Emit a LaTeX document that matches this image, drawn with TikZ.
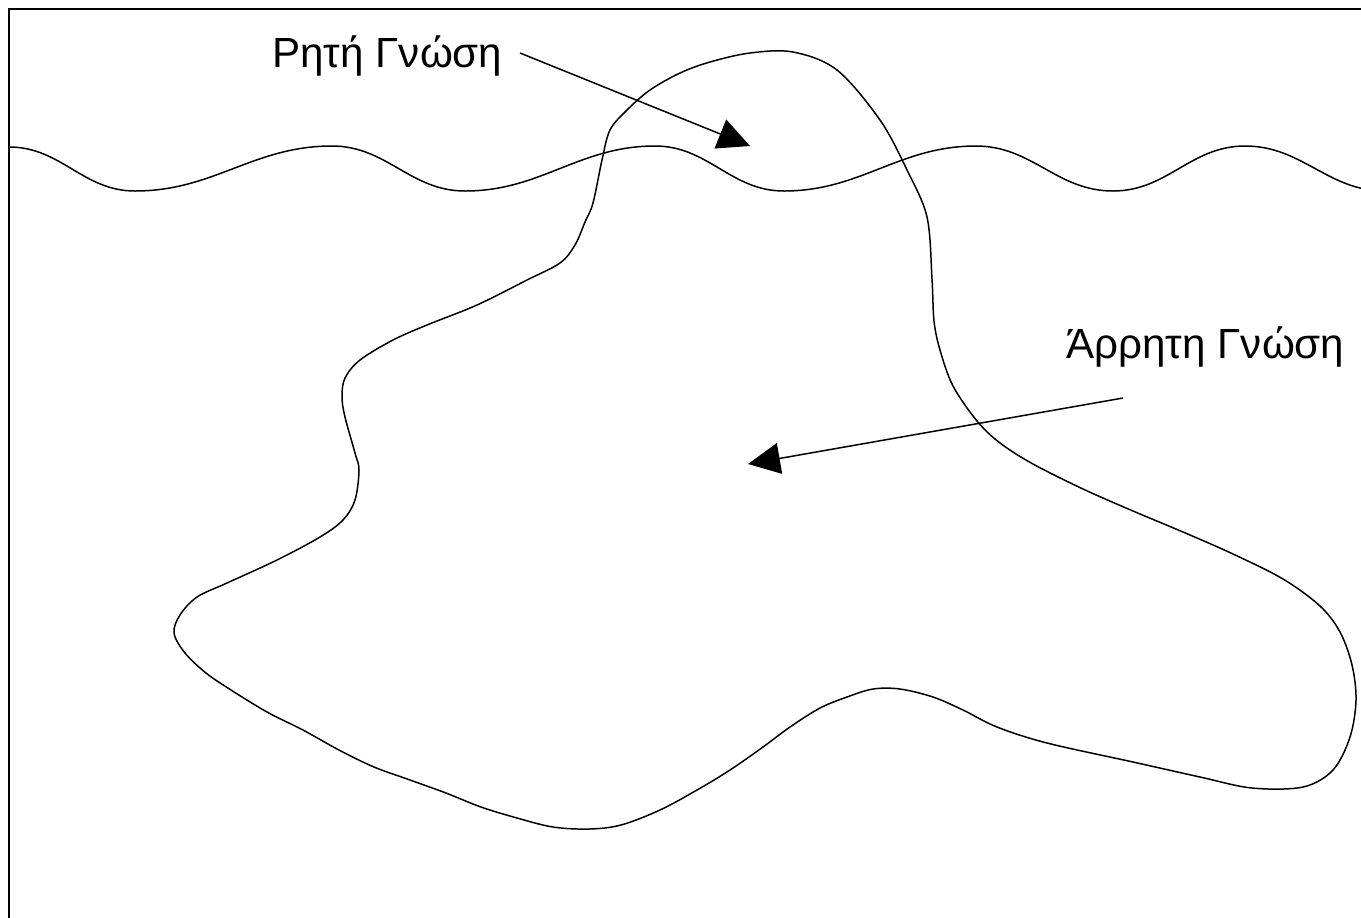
\documentclass[tikz,border=0pt]{standalone}
\usepackage{fontspec}
\setmainfont{Liberation Sans}
\usetikzlibrary{arrows.meta}
\tikzset{
    curve/.style={line width=0.85pt},
    swing/.style={out=0,in=180},
    pointer/.style={line width=0.85pt,-{Triangle[length=0.64cm,width=0.62cm]}},
    tag/.style={inner sep=0pt,anchor=base west,font=\fontsize{24}{28}\selectfont}
}

\begin{document}
\begin{tikzpicture}[x=0.02cm,y=-0.02cm]
    \useasboundingbox (0,0) rectangle (1361,917);
    \clip (0,0) rectangle (1361,917);

    % frame
    \draw[line width=1.1pt] (9,9) rectangle (1400,960);

    % surface line
    \draw[curve] (9,147) to[swing] (135,191) to[swing] (332,146) to[swing] (465,191)
        to[swing] (655,146) to[swing] (784,191) to[swing] (976,146) to[swing] (1113,191)
        to[swing] (1245,146) to[swing] (1385,191);

    % the iceberg
    \draw[curve] plot[smooth cycle,tension=0.55] coordinates {
        (750,53) (793,52) (837,70) (880,120) (907,170) (927,217) (932,279) (934,321)
        (940,350) (953,386) (977,421) (1000,443) (1033,464) (1083,489) (1133,511)
        (1183,532) (1233,554) (1283,579) (1320,606) (1340,632) (1352,665) (1356,700)
        (1350,737) (1333,770) (1303,787) (1252,788) (1200,777) (1133,762) (1047,743)
        (997,727) (963,710) (933,697) (900,689) (873,689) (847,697) (820,708) (790,727)
        (763,747) (730,770) (697,790) (660,810) (621,825) (589,829) (553,827) (517,818)
        (481,807) (446,793) (410,780) (374,767) (339,750) (303,730) (267,712) (231,690)
        (206,673) (185,653) (174,633) (180,615) (197,597) (227,583) (277,560) (320,537)
        (343,520) (355,500) (359,470) (355,453) (345,417) (342,397) (345,378) (360,360)
        (393,340) (427,325) (477,305) (527,280) (560,263) (575,245) (585,222) (593,203)
        (602,160) (610,130) (627,110) (650,90) (680,73) (710,62)};

    % labels
    \node[tag] (explicit) at (272,67) {Ρητή Γνώση};
    \node[tag] (tacit) at (1066,358) {Άρρητη Γνώση};

    \coordinate (explicit tail) at ([shift={(248,-14)}]explicit.base west);
    \coordinate (explicit tip) at (750,146);
    \coordinate (tacit tail) at ([shift={(57,40)}]tacit.base west);
    \coordinate (tacit tip) at (748,464);

    \draw[pointer] (explicit tail) -- (explicit tip);
    \draw[pointer] (tacit tail) -- (tacit tip);
\end{tikzpicture}
\end{document}
